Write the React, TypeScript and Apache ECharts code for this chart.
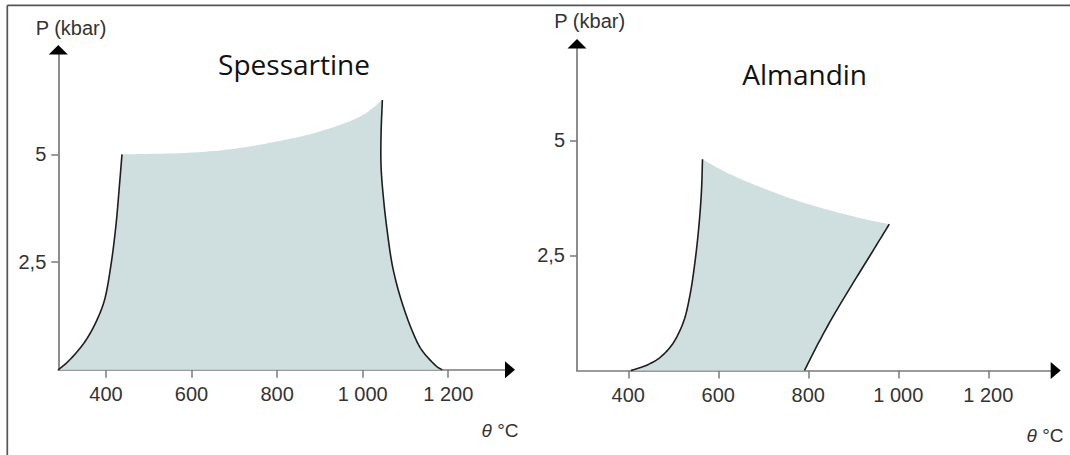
import React, { useEffect, useRef } from "react";
import * as echarts from "echarts";

// ---- Data (temperature °C / pressure kbar) ----
const tickTemps = [400, 600, 800, 1000, 1200];
const tickPressures = [2.5, 5];

// Spessartine stability field
const spLeftT = [288.5, 308.9, 329.9, 353.3, 379, 396.5, 411.7, 423.4, 431.5, 437.4];
const spLeftP = [0, 0.17, 0.39, 0.69, 1.16, 1.62, 2.44, 3.37, 4.29, 5.0];
const spTopT = [437.4, 500, 600, 700, 800, 900, 1000, 1046];
const spTopP = [5.0, 5.01, 5.04, 5.13, 5.3, 5.53, 5.91, 6.26];
const spRightT = [1046, 1043, 1043, 1049, 1058, 1070, 1090, 1118, 1138, 1174, 1186];
const spRightP = [6.26, 5.49, 4.71, 3.94, 3.17, 2.39, 1.62, 0.85, 0.46, 0.07, 0];

// Almandin stability field
const alLeftT = [406, 437.1, 466, 488.2, 503.8, 523.8, 537.1, 548.2, 557.1, 562.7, 564.9];
const alLeftP = [0, 0.1, 0.25, 0.45, 0.66, 1.09, 1.64, 2.36, 3.16, 3.92, 4.59];
const alTopT = [564.9, 618.7, 692.7, 766.7, 840.9, 929.8, 980];
const alTopP = [4.59, 4.3, 3.99, 3.72, 3.5, 3.28, 3.18];
const alRightT = [980, 938, 897, 857, 820, 791.6];
const alRightP = [3.18, 2.51, 1.86, 1.21, 0.55, 0];

const FILL = "#cfdede";
const CURVE = "#1e1e1e";
const AXIS = "#7a7a7a";
const TEXT = "#333333";

function zip(t: number[], p: number[]) {
  return t.map((v, i) => [v, p[i]]);
}

// centripetal Catmull-Rom through pixel points (rendering only)
function catmull(pts: number[][], steps = 12): number[][] {
  const out: number[][] = [];
  const n = pts.length;
  const dist = (a: number[], b: number[]) => Math.max(1e-4, Math.pow(Math.hypot(b[0] - a[0], b[1] - a[1]), 0.5));
  for (let i = 0; i < n - 1; i++) {
    const p1 = pts[i];
    const p2 = pts[i + 1];
    const p0 = i > 0 ? pts[i - 1] : [2 * p1[0] - p2[0], 2 * p1[1] - p2[1]];
    const p3 = i + 2 < n ? pts[i + 2] : [2 * p2[0] - p1[0], 2 * p2[1] - p1[1]];
    const t0 = 0;
    const t1 = t0 + dist(p0, p1);
    const t2 = t1 + dist(p1, p2);
    const t3 = t2 + dist(p2, p3);
    for (let s = 0; s < steps; s++) {
      const t = t1 + ((t2 - t1) * s) / steps;
      const lerp = (a: number[], b: number[], ta: number, tb: number) => {
        const w = (t - ta) / (tb - ta);
        return [a[0] + (b[0] - a[0]) * w, a[1] + (b[1] - a[1]) * w];
      };
      const A1 = lerp(p0, p1, t0, t1);
      const A2 = lerp(p1, p2, t1, t2);
      const A3 = lerp(p2, p3, t2, t3);
      const B1 = lerp(A1, A2, t0, t2);
      const B2 = lerp(A2, A3, t1, t3);
      out.push(lerp(B1, B2, t1, t2));
    }
  }
  out.push(pts[n - 1]);
  return out;
}

function fmtT(v: number) {
  if (v >= 1000) return Math.floor(v / 1000) + " " + String(v % 1000).padStart(3, "0");
  return String(v);
}

function axisPair(gridIndex: number, xMin: number, xMax: number, yMax: number) {
  const x = {
    type: "value",
    gridIndex,
    min: xMin,
    max: xMax,
    axisLine: { show: true, lineStyle: { color: AXIS, width: 1.7 } },
    axisTick: { show: true, customValues: tickTemps, length: 8, lineStyle: { color: AXIS, width: 1.5 } },
    axisLabel: {
      show: true,
      customValues: tickTemps,
      formatter: (v: number) => fmtT(v),
      fontSize: 20,
      fontFamily: "Liberation Sans",
      color: TEXT,
      margin: 14,
    },
    splitLine: { show: false },
  };
  const y = {
    type: "value",
    gridIndex,
    min: 0,
    max: yMax,
    axisLine: { show: true, lineStyle: { color: AXIS, width: 1.7 } },
    axisTick: { show: true, customValues: tickPressures, length: 7, lineStyle: { color: AXIS, width: 1.5 } },
    axisLabel: {
      show: true,
      customValues: tickPressures,
      formatter: (v: number) => String(v).replace(".", ","),
      fontSize: 20,
      fontFamily: "Liberation Sans",
      color: TEXT,
      margin: 12,
    },
    splitLine: { show: false },
  };
  return { x, y };
}

function fieldSeries(idx: number, left: number[][], top: number[][], right: number[][]) {
  return {
    type: "custom",
    xAxisIndex: idx,
    yAxisIndex: idx,
    clip: false,
    silent: true,
    data: [left[0]],
    renderItem: (_params: any, api: any) => {
      const toPx = (arr: number[][]) => arr.map((d) => api.coord(d));
      const lp = catmull(toPx(left));
      const tp = catmull(toPx(top));
      const rp = catmull(toPx(right));
      const poly = lp.concat(tp.slice(1), rp.slice(1));
      return {
        type: "group",
        children: [
          { type: "polygon", shape: { points: poly }, style: { fill: FILL, stroke: "none" } },
          { type: "polyline", shape: { points: lp }, style: { fill: "none", stroke: CURVE, lineWidth: 1.6 } },
          { type: "polyline", shape: { points: rp }, style: { fill: "none", stroke: CURVE, lineWidth: 1.6 } },
        ],
      };
    },
  };
}

function arrowSeries(idx: number, xMin: number, xMax: number, yMax: number) {
  return {
    type: "custom",
    xAxisIndex: idx,
    yAxisIndex: idx,
    clip: false,
    silent: true,
    data: [[xMax, 0]],
    renderItem: (_params: any, api: any) => {
      const e = api.coord([xMax, 0]);
      const t = api.coord([xMin, yMax]);
      return {
        type: "group",
        children: [
          {
            type: "polygon",
            shape: { points: [[e[0] - 1, e[1] - 8.5], [e[0] + 9, e[1]], [e[0] - 1, e[1] + 8.5]] },
            style: { fill: "#000" },
          },
          {
            type: "polygon",
            shape: { points: [[t[0] - 9.5, t[1] + 1], [t[0], t[1] - 8.5], [t[0] + 9.5, t[1] + 1]] },
            style: { fill: "#000" },
          },
        ],
      };
    },
  };
}

export default function App() {
  const ref = useRef<HTMLDivElement>(null);
  useEffect(() => {
    if (!ref.current) return;
    const chart = echarts.init(ref.current, null, { renderer: "svg" });
    const L = { xMin: 288.5, xMax: 1335, yMax: 7.34 };
    const R = { xMin: 286, xMax: 1341, yMax: 7.02 };
    const a0 = axisPair(0, L.xMin, L.xMax, L.yMax);
    const a1 = axisPair(1, R.xMin, R.xMax, R.yMax);
    const titleStyle = { fontSize: 28, fontFamily: "Open Sans", fill: "#111", align: "center", verticalAlign: "middle" };
    const nameStyle = { fontSize: 20, fontFamily: "Liberation Sans", fill: TEXT, align: "center", verticalAlign: "middle" };
    const unitStyle = {
      fontSize: 19,
      fontFamily: "Liberation Sans",
      fill: TEXT,
      align: "center",
      verticalAlign: "middle",
      rich: { i: { fontStyle: "italic", fontSize: 19, fontFamily: "Liberation Sans", fill: TEXT } },
    };
    chart.setOption({
      animation: false,
      backgroundColor: "#ffffff",
      grid: [
        { left: 58.3, right: 1070 - 506, top: 53.5, bottom: 455 - 369.8 },
        { left: 577, right: 1070 - 1051.7, top: 47.5, bottom: 455 - 370.5 },
      ],
      xAxis: [a0.x, a1.x],
      yAxis: [a0.y, a1.y],
      series: [
        fieldSeries(0, zip(spLeftT, spLeftP), zip(spTopT, spTopP), zip(spRightT, spRightP)),
        fieldSeries(1, zip(alLeftT, alLeftP), zip(alTopT, alTopP), zip(alRightT, alRightP)),
        arrowSeries(0, L.xMin, L.xMax, L.yMax),
        arrowSeries(1, R.xMin, R.xMax, R.yMax),
      ],
      graphic: [
        { type: "line", shape: { x1: 7.3, y1: 5.3, x2: 1070, y2: 5.3 }, style: { stroke: "#555", lineWidth: 1.7 } },
        { type: "line", shape: { x1: 7.3, y1: 5.3, x2: 7.3, y2: 455 }, style: { stroke: "#555", lineWidth: 1.7 } },
        { type: "text", x: 294, y: 64, style: { ...titleStyle, text: "Spessartine" } },
        { type: "text", x: 804.6, y: 74, style: { ...titleStyle, text: "Almandin" } },
        { type: "text", x: 71, y: 27.5, style: { ...nameStyle, text: "P (kbar)" } },
        { type: "text", x: 589.7, y: 20.5, style: { ...nameStyle, text: "P (kbar)" } },
        { type: "text", x: 500, y: 430, style: { ...unitStyle, text: "{i|θ} °C" } },
        { type: "text", x: 1045, y: 435, style: { ...unitStyle, text: "{i|θ} °C" } },
      ],
    });
    return () => chart.dispose();
  }, []);
  return (
    <div
      ref={ref}
      style={{ position: "fixed", left: 0, top: 0, width: 1070, height: 455, background: "#fff" }}
    />
  );
}
